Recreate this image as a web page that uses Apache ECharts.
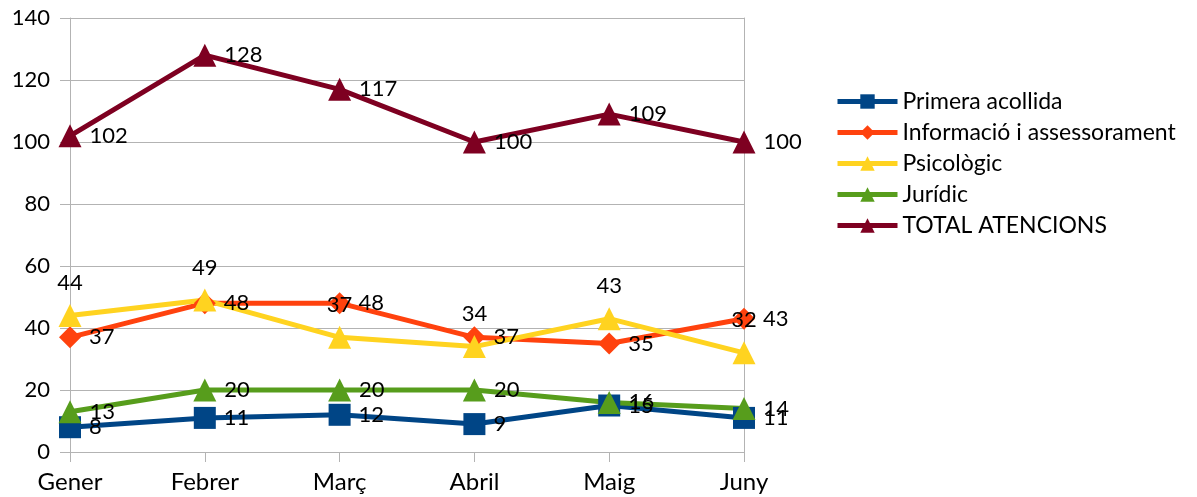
<!DOCTYPE html>
<html>
<head>
    <meta charset="utf-8">
    <title>Atencions</title>
    <script src="https://cdn.jsdelivr.net/npm/echarts@6/dist/echarts.min.js"></script>
    <style>
        html, body { margin: 0; padding: 0; background: #fff; }
    </style>
</head>
<body>
    <div id="main" style="width: 1197px;height:497px;"></div>

    <script type="text/javascript">
        // dades
        var mesos = ['Gener', 'Febrer', 'Març', 'Abril', 'Maig', 'Juny'];
        var primeraAcollida = [8, 11, 12, 9, 15, 11];
        var informacio = [37, 48, 48, 37, 35, 43];
        var psicologic = [44, 49, 37, 34, 43, 32];
        var juridic = [13, 20, 20, 20, 16, 14];
        var totalAtencions = [102, 128, 117, 100, 109, 100];

        var font = 'Lato, "Open Sans", sans-serif';

        function serie(nom, dades, color, simbol, mida, posicio) {
            return {
                name: nom,
                type: 'line',
                data: dades,
                symbol: simbol,
                symbolSize: mida,
                showAllSymbol: true,
                itemStyle: { color: color },
                lineStyle: { color: color, width: 5 },
                label: {
                    show: true,
                    position: posicio,
                    distance: posicio === 'top' ? 10 : 8,
                    color: '#000',
                    fontSize: 22,
                    fontFamily: font
                },
                emphasis: { disabled: true },
                animation: false
            };
        }

        var myChart = echarts.init(document.getElementById('main'));

        var option = {
            backgroundColor: '#fff',
            grid: { left: 70, right: 453, top: 18, bottom: 45, containLabel: false },
            legend: {
                orient: 'vertical',
                left: 830,
                top: 85,
                itemWidth: 60,
                itemHeight: 18,
                itemGap: 8,
                lineStyle: { width: 5 },
                textStyle: { color: '#000', fontSize: 23, fontFamily: font },
                data: ['Primera acollida', 'Informació i assessorament', 'Psicològic', 'Jurídic', 'TOTAL ATENCIONS']
            },
            xAxis: {
                type: 'category',
                data: mesos,
                boundaryGap: false,
                axisLine: { lineStyle: { color: '#b3b3b3', width: 1 } },
                axisTick: { show: true, length: 10, lineStyle: { color: '#b3b3b3' } },
                axisLabel: { color: '#000', fontSize: 24, fontFamily: font, margin: 18 },
                splitLine: { show: false }
            },
            yAxis: [{
                type: 'value',
                min: 0,
                max: 140,
                interval: 20,
                axisLine: { show: true, lineStyle: { color: '#b3b3b3', width: 1 } },
                axisTick: { show: true, length: 10, lineStyle: { color: '#b3b3b3' } },
                axisLabel: { color: '#000', fontSize: 22, fontFamily: font, margin: 20 },
                splitLine: { show: true, lineStyle: { color: '#b3b3b3', width: 1 } }
            }, {
                // línia de la vora dreta
                type: 'value',
                min: 0,
                max: 140,
                interval: 20,
                position: 'right',
                axisLine: { show: true, lineStyle: { color: '#b3b3b3', width: 1 } },
                axisTick: { show: false },
                axisLabel: { show: false },
                splitLine: { show: false }
            }],
            series: [
                serie('Primera acollida', primeraAcollida, '#004586', 'rect', 22, 'right'),
                serie('Informació i assessorament', informacio, '#ff420e', 'diamond', 22, 'right'),
                serie('Psicològic', psicologic, '#ffd320', 'triangle', 23, 'top'),
                serie('Jurídic', juridic, '#579d1c', 'triangle', 23, 'right'),
                serie('TOTAL ATENCIONS', totalAtencions, '#7e0021', 'triangle', 23, 'right')
            ]
        };

        myChart.setOption(option);
    </script>
</body>
</html>
